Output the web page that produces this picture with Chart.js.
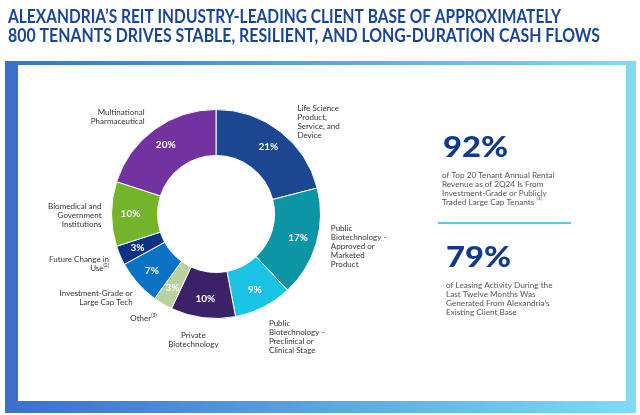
<!DOCTYPE html>
<html><head><meta charset="utf-8">
<script src="https://cdn.jsdelivr.net/npm/chart.js@4/dist/chart.umd.min.js"></script>
<style>html,body{margin:0;padding:0;background:#fff;overflow:hidden}canvas{display:block}</style>
</head><body>
<canvas id="c" width="640" height="415"></canvas>
<script>
// ---- data ----
const categories = [
  ['Life Science','Product,','Service, and','Device'],
  ['Public','Biotechnology -','Approved or','Marketed','Product'],
  ['Public','Biotechnology -','Preclinical or','Clinical Stage'],
  ['Private','Biotechnology'],
  ['Other'],
  ['Investment-Grade or','Large Cap Tech'],
  ['Future Change in','Use'],
  ['Biomedical and','Government','Institutions'],
  ['Multinational','Pharmaceutical']
];
const footnotes = ['', '', '', '', '(3)', '', '(2)', '', ''];
const shares = [21, 17, 9, 10, 3, 7, 3, 10, 20];
const colors = ['#1a4790','#0b95a5','#19c3e3','#3b2268','#b9d19d','#0a73c5','#0d3185','#74b42a','#7232a0'];
const titleLines = [
  'ALEXANDRIA\u2019S REIT INDUSTRY-LEADING CLIENT BASE OF APPROXIMATELY',
  '800 TENANTS DRIVES STABLE, RESILIENT, AND LONG-DURATION CASH FLOWS'
];
const highlightValues = ['92%', '79%'];
const highlightTexts = [
  ['of Top 20 Tenant Annual Rental','Revenue as of 2Q24 Is From','Investment-Grade or Publicly','Traded Large Cap Tenants'],
  ['of Leasing Activity During the','Last Twelve Months Was','Generated From Alexandria\u2019s','Existing Client Base']
];
const highlightNotes = ['(1)', ''];

// ---- label layout tweaks (text only) ----
const labelNudge = [[10,0],[3,-6],[0,3],[-8,1],[0,0],[4,1],[0,0],[2,1],[-3,-3]];

const FONT = 'Lato, "Open Sans", sans-serif';

function stretchText(ctx, text, x, y, targetW) {
  const w = ctx.measureText(text).width;
  ctx.save();
  ctx.translate(x, y);
  ctx.scale(targetW / w, 1);
  ctx.textAlign = 'left';
  ctx.fillText(text, 0, 0);
  ctx.restore();
}

const backdrop = {
  id: 'backdrop',
  beforeDraw(chart) {
    const ctx = chart.ctx;
    ctx.save();
    ctx.fillStyle = '#ffffff';
    ctx.fillRect(0, 0, chart.width, chart.height);
    // title
    ctx.fillStyle = '#1a4597';
    ctx.font = 'bold 18px ' + FONT;
    ctx.textBaseline = 'alphabetic';
    stretchText(ctx, titleLines[0], 8, 22.5, 553);
    stretchText(ctx, titleLines[1], 8, 42, 592);
    // frame
    const g = ctx.createLinearGradient(5, 0, 636, 0);
    g.addColorStop(0, '#3b6fce');
    g.addColorStop(0.5, '#5aa5de');
    g.addColorStop(1, '#7fdcf3');
    ctx.fillStyle = g;
    ctx.fillRect(5, 61, 631, 352);
    ctx.fillStyle = '#ffffff';
    ctx.fillRect(18, 65, 608, 336);
    // right panel
    const panels = [{x: 443, base: 157, tx: 442, t0: 175}, {x: 446, base: 267, tx: 446, t0: 285}];
    panels.forEach((p, i) => {
      ctx.fillStyle = '#123a8c';
      ctx.font = '900 28px ' + FONT;
      ctx.textBaseline = 'alphabetic';
      stretchText(ctx, highlightValues[i], p.x, p.base, 65);
      ctx.fillStyle = '#555555';
      ctx.font = '8.2px ' + FONT;
      ctx.textBaseline = 'middle';
      ctx.textAlign = 'left';
      highlightTexts[i].forEach((ln, k) => {
        ctx.fillText(ln, p.tx, p.t0 + k * 9);
        if (k === highlightTexts[i].length - 1 && highlightNotes[i]) {
          const w = ctx.measureText(ln + ' ').width;
          ctx.save();
          ctx.font = '5px ' + FONT;
          ctx.fillText(highlightNotes[i], p.tx + w, p.t0 + k * 9 - 4);
          ctx.restore();
        }
      });
    });
    ctx.strokeStyle = '#5ec9e2';
    ctx.lineWidth = 2;
    ctx.beginPath();
    ctx.moveTo(438, 223);
    ctx.lineTo(571, 223);
    ctx.stroke();
    ctx.restore();
  }
};

const arcLabels = {
  id: 'arcLabels',
  afterDatasetsDraw(chart) {
    const ctx = chart.ctx;
    const meta = chart.getDatasetMeta(0);
    ctx.save();
    meta.data.forEach((arc, i) => {
      const {x, y, startAngle, endAngle, innerRadius, outerRadius} = arc.getProps(['x','y','startAngle','endAngle','innerRadius','outerRadius'], true);
      const mid = (startAngle + endAngle) / 2;
      const dx = Math.cos(mid), dy = Math.sin(mid);
      // value label
      const r = (innerRadius + outerRadius) / 2 + 4;
      ctx.fillStyle = '#ffffff';
      ctx.font = 'bold 10px ' + FONT;
      ctx.textAlign = 'center';
      ctx.textBaseline = 'middle';
      ctx.fillText(shares[i] + '%', x + dx * r, y + dy * r);
      // category label
      const lines = categories[i];
      const lh = 9;
      const ax = x + dx * (outerRadius + 12) + labelNudge[i][0];
      const ay = y + dy * (outerRadius + 12) + labelNudge[i][1];
      const H = lines.length * lh;
      const top = dy > 0 ? ay - H / 2 * (1 - dy) : ay - H / 2;
      const align = Math.abs(dx) < 0.2 ? 'center' : (dx > 0 ? 'left' : 'right');
      ctx.fillStyle = '#333333';
      ctx.textBaseline = 'middle';
      lines.forEach((ln, k) => {
        ctx.font = '8px ' + FONT;
        const isLast = k === lines.length - 1;
        const note = isLast ? footnotes[i] : '';
        const w = ctx.measureText(ln).width;
        ctx.font = '5px ' + FONT;
        const nw = note ? ctx.measureText(note).width : 0;
        const total = w + nw;
        let lx = align === 'left' ? ax : (align === 'right' ? ax - total : ax - total / 2);
        const ly = top + lh / 2 + k * lh;
        ctx.font = '8px ' + FONT;
        ctx.textAlign = 'left';
        ctx.fillText(ln, lx, ly);
        if (note) {
          ctx.font = '5px ' + FONT;
          ctx.fillText(note, lx + w, ly - 3);
        }
      });
    });
    ctx.restore();
  }
};

new Chart(document.getElementById('c'), {
  type: 'doughnut',
  data: {
    labels: categories.map(c => c.join(' ')),
    datasets: [{
      data: shares,
      backgroundColor: colors,
      borderColor: '#ffffff',
      borderWidth: 1
    }]
  },
  options: {
    responsive: false,
    devicePixelRatio: 1,
    animation: false,
    cutout: '56%',
    rotation: 0,
    layout: {padding: {left: 111, right: 319, top: 109, bottom: 96}},
    plugins: {legend: {display: false}, tooltip: {enabled: false}, title: {display: false}}
  },
  plugins: [backdrop, arcLabels]
});
</script>
</body></html>
